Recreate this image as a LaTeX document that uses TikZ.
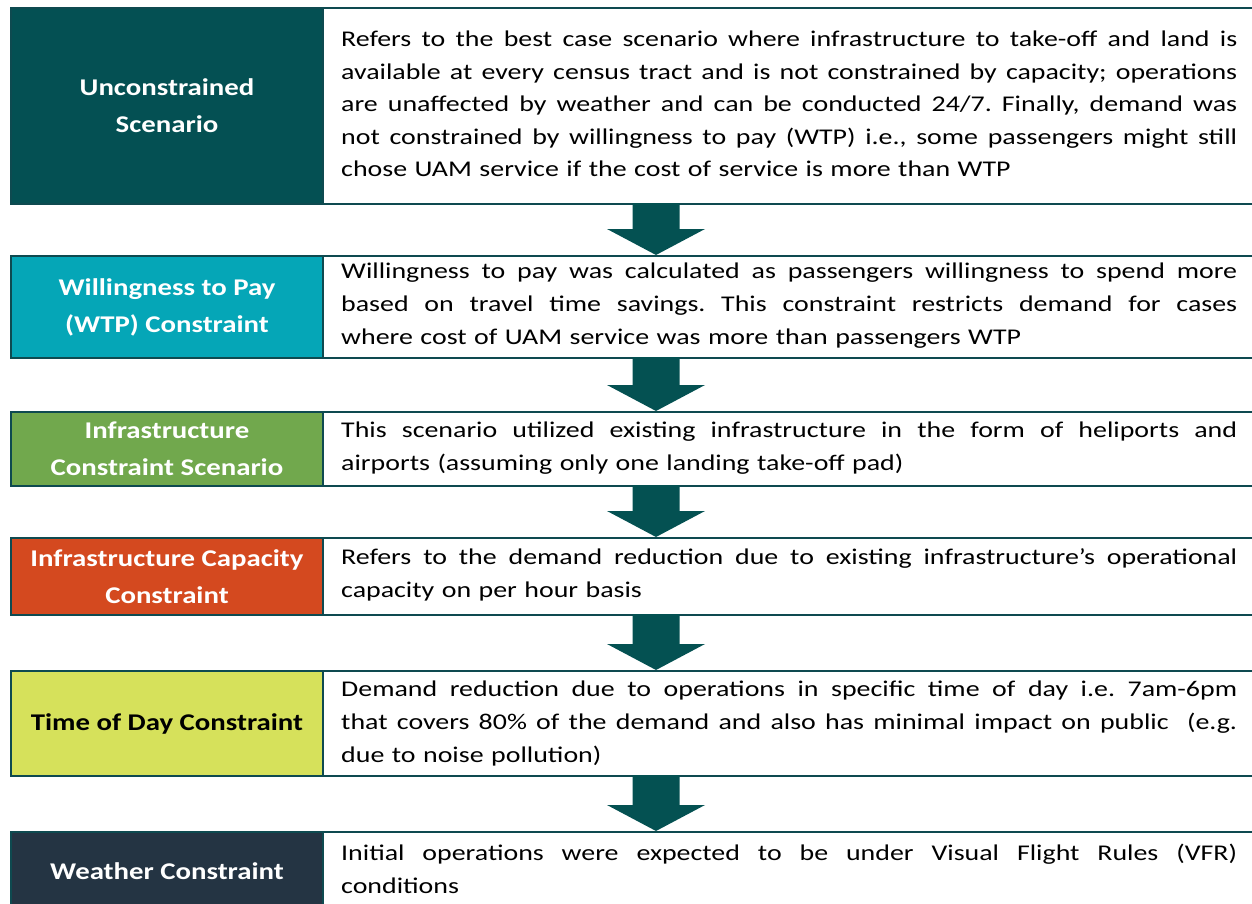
\documentclass[tikz,border=0pt]{standalone}
\usepackage{fontspec}
\setmainfont{Carlito}[FakeStretch=1.2]
\newfontfamily\bodyf{Carlito}[FakeStretch=1.24]
\usetikzlibrary{calc}
\definecolor{cA}{HTML}{045053}
\definecolor{cB}{HTML}{05A6B7}
\definecolor{cC}{HTML}{71A84D}
\definecolor{cD}{HTML}{D4491F}
\definecolor{cE}{HTML}{D6E15B}
\definecolor{cF}{HTML}{243443}
\definecolor{bord}{HTML}{0E4A50}
\definecolor{arrc}{HTML}{045152}
\frenchspacing
\newcommand\jl[1]{{\spaceskip=0pt\xspaceskip=0pt\makebox[896pt][s]{#1}}}
\newcommand\blockarr[2]{\fill[arrc] let \p1=(#1), \p2=(#2) in
  (\x1-23.5pt,\y1) -- (\x1+23.5pt,\y1) -- (\x1+23.5pt,\y2+26pt) -- (\x1+49pt,\y2+26pt)
  -- (\x1,\y2) -- (\x1-49pt,\y2+26pt) -- (\x1-23.5pt,\y2+26pt) -- cycle;}
\begin{document}
\begin{tikzpicture}[x=1pt,y=-1pt,
  lbox/.style={draw=bord,line width=2pt,minimum width=312pt,inner sep=0pt,align=center,
    text=white,font=\fontsize{24}{37}\selectfont\bfseries},
  rbox/.style={draw=bord,line width=2.2pt,fill=white},
  btext/.style={anchor=west,text width=896pt,align=left,inner sep=0pt,
    font=\bodyf\fontsize{22.5}{33}\selectfont}]
\useasboundingbox (0,0) rectangle (1252,904);
\clip (0,0) rectangle (1252,904);
% row 1
\draw[rbox] (323,8) rectangle (1260,204);
\node[lbox,fill=cA,minimum height=196pt] (l1) at (167,106) {Unconstrained\\Scenario};
\node[btext,font=\bodyf\fontsize{22.5}{32.5}\selectfont] (t1) at (341,104) {\jl{Refers to the best case scenario where infrastructure to take-off and land is}\\
\jl{available at every census tract and is not constrained by capacity; operations}\\
\jl{are unaffected by weather and can be conducted 24/7. Finally, demand was}\\
\jl{not constrained by willingness to pay (WTP) i.e., some passengers might still}\\
chose UAM service if the cost of service is more than WTP};
% row 2
\draw[rbox] (323,256) rectangle (1260,358);
\node[lbox,fill=cB,minimum height=102pt] (l2) at (167,307) {Willingness to Pay\\(WTP) Constraint};
\node[btext] (t2) at (341,306) {\jl{Willingness to pay was calculated as passengers willingness to spend more}\\
\jl{based on travel time savings. This constraint restricts demand for cases}\\
where cost of UAM service was more than passengers WTP};
% row 3
\draw[rbox] (323,412) rectangle (1260,486);
\node[lbox,fill=cC,minimum height=74pt] (l3) at (167,449) {Infrastructure\\Constraint Scenario};
\node[btext] (t3) at (341,448) {\jl{This scenario utilized existing infrastructure in the form of heliports and}\\
airports (assuming only one landing take-off pad)};
% row 4
\draw[rbox] (323,538) rectangle (1260,615);
\node[lbox,fill=cD,minimum height=77pt] (l4) at (167,576.5) {Infrastructure Capacity\\Constraint};
\node[btext] (t4) at (341,575) {\jl{Refers to the demand reduction due to existing infrastructure’s operational}\\
capacity on per hour basis};
% row 5
\draw[rbox] (323,671) rectangle (1260,776);
\node[lbox,fill=cE,minimum height=105pt,text=black] (l5) at (167,723.5) {Time of Day Constraint};
\node[btext] (t5) at (341,723) {\jl{Demand reduction due to operations in specific time of day i.e. 7am-6pm}\\
\jl{that covers 80\% of the demand and also has minimal impact on public ~(e.g.}\\
due to noise pollution)};
% row 6
\draw[rbox] (323,832) rectangle (1260,910);
\node[lbox,fill=cF,minimum height=78pt] (l6) at (167,871) {Weather Constraint};
\node[btext] (t6) at (341,869) {\jl{Initial operations were expected to be under Visual Flight Rules (VFR)}\\
conditions};
% arrows
\coordinate (a1s) at (656,203); \coordinate (a1e) at (656,255);
\coordinate (a2s) at (656,357); \coordinate (a2e) at (656,411);
\coordinate (a3s) at (656,485); \coordinate (a3e) at (656,537);
\coordinate (a4s) at (656,614); \coordinate (a4e) at (656,670);
\coordinate (a5s) at (656,775); \coordinate (a5e) at (656,831);
\blockarr{a1s}{a1e}
\blockarr{a2s}{a2e}
\blockarr{a3s}{a3e}
\blockarr{a4s}{a4e}
\blockarr{a5s}{a5e}
\end{tikzpicture}
\end{document}
